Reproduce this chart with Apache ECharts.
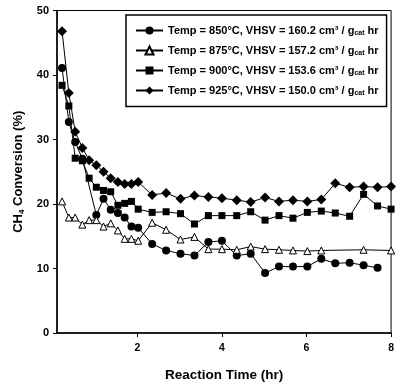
<!DOCTYPE html>
<html>
<head>
<meta charset="utf-8">
<script src="https://cdn.jsdelivr.net/npm/echarts@6/dist/echarts.min.js"></script>
<style>
  html, body { margin: 0; padding: 0; background: #fff; }
  #chart { width: 397px; height: 387px; }
</style>
</head>
<body>
<div id="chart"></div>
<script>
// reaction time (hr), 10 min steps first, then 20 min steps
var timeHr = [0.22, 0.38, 0.53, 0.7, 0.86, 1.03, 1.2, 1.37, 1.54, 1.7, 1.86, 2.02,
    2.35, 2.68, 3.02, 3.35, 3.68, 4.0, 4.35, 4.68, 5.02, 5.35, 5.68, 6.02, 6.35, 6.68, 7.02, 7.35, 7.68, 8.0];

// CH4 conversion (%)
var conv850 = [41.1, 32.7, 29.6, 27.0, null, 18.3, 20.8, 19.1, 18.6, 17.9, 16.5, 16.3,
    13.8, 12.8, 12.3, 12.0, 14.1, 14.3, 12.0, 12.3, 9.3, 10.3, 10.3, 10.3, 11.5, 10.8, 10.9, 10.5, 10.1, null];
var conv875 = [20.4, 17.9, 17.9, 16.8, 17.5, 17.5, 16.5, 17.0, 15.9, 14.6, 14.6, 14.3,
    17.1, 16.0, 14.5, 14.9, 13.0, 13.0, 12.9, 13.4, 13.0, 12.9, 12.8, 12.7, 12.8, null, null, 12.9, null, 12.8];
var conv900 = [38.4, 35.2, 27.1, 26.7, 24.0, 22.6, 22.1, 21.9, 19.8, 20.1, 20.4, 19.2,
    18.7, 18.8, 18.5, 16.9, 18.2, 18.2, 18.2, 18.8, 17.5, 18.2, 17.8, 18.7, 18.9, 18.6, 18.1, 21.5, 19.7, 19.2];
var conv925 = [46.8, 37.2, 31.2, 28.7, 26.8, 26.0, 25.0, 24.0, 23.4, 23.1, 23.1, 23.4,
    21.4, 21.7, 20.8, 21.3, 21.1, 20.9, 20.6, 20.3, 21.0, 20.4, 20.6, 20.4, 20.7, 23.2, 22.6, 22.7, 22.6, 22.7];

var seriesNames = ['850', '875', '900', '925'];
var vhsvValues = ['160.2', '157.2', '153.6', '150.0'];
var xTicks = [2, 4, 6, 8];
var yTicks = [0, 10, 20, 30, 40, 50];

var font = '"Liberation Sans", Arial, sans-serif';

function pairs(vals) {
    var out = [];
    for (var i = 0; i < timeHr.length; i++) {
        out.push([timeHr[i], vals[i]]);
    }
    return out;
}

function makeSeries(idx, vals, symbol, size, hollow) {
    return {
        name: seriesNames[idx],
        type: 'line',
        data: pairs(vals),
        connectNulls: true,
        symbol: symbol,
        symbolSize: size,
        showAllSymbol: true,
        lineStyle: { color: '#000', width: 1 },
        itemStyle: hollow
            ? { color: '#fff', borderColor: '#000', borderWidth: 1 }
            : { color: '#000', borderColor: '#000', borderWidth: 0 },
        emphasis: { disabled: true },
        animation: false
    };
}

var chart = echarts.init(document.getElementById('chart'), null, { renderer: 'canvas' });

var option = {
    backgroundColor: '#fff',
    animation: false,
    grid: {
        left: 57, right: 3, top: 10.5, bottom: 51.3,
        show: true, borderColor: '#000', borderWidth: 1
    },
    legend: {
        orient: 'vertical',
        left: 126, top: 15,
        padding: [10, 8, 10, 9],
        itemGap: 8.5,
        itemWidth: 27,
        itemHeight: 10,
        borderColor: '#000',
        borderWidth: 1.5,
        backgroundColor: '#fff',
        data: seriesNames,
        formatter: function(name) {
            var i = seriesNames.indexOf(name);
            return '{t|Temp = ' + name + '°C, VHSV = ' + vhsvValues[i] + ' cm³ / g}{s|cat}{t| hr}';
        },
        textStyle: {
            rich: {
                t: { fontFamily: font, fontWeight: 'bold', fontSize: 11, color: '#000' },
                s: { fontFamily: font, fontWeight: 'bold', fontSize: 7, color: '#000', padding: [5, 0, 0, 0] }
            }
        }
    },
    xAxis: {
        type: 'value',
        min: 0.1,
        max: 8,
        name: 'Reaction Time (hr)',
        nameLocation: 'middle',
        nameGap: 35,
        nameTextStyle: { fontFamily: font, fontWeight: 'bold', fontSize: 13.5, color: '#000' },
        splitLine: { show: false },
        axisLine: { lineStyle: { color: '#000', width: 1.5 } },
        axisTick: { inside: false, length: 4, customValues: xTicks, lineStyle: { color: '#000' } },
        axisLabel: {
            customValues: xTicks,
            margin: 10,
            fontFamily: font, fontWeight: 'bold', fontSize: 10.5, color: '#000'
        }
    },
    yAxis: {
        type: 'value',
        min: yTicks[0],
        max: yTicks[yTicks.length - 1],
        interval: 10,
        name: '{b|CH}{s|4}{b| Conversion (%)}',
        nameLocation: 'middle',
        nameGap: 30,
        nameTextStyle: {
            rich: {
                b: { fontFamily: font, fontWeight: 'bold', fontSize: 13, color: '#000' },
                s: { fontFamily: font, fontWeight: 'bold', fontSize: 8, color: '#000', padding: [6, 0, 0, 0] }
            }
        },
        splitLine: { show: false },
        axisLine: { lineStyle: { color: '#000', width: 1.5 } },
        axisTick: { inside: false, length: 4, lineStyle: { color: '#000' } },
        axisLabel: {
            margin: 8,
            fontFamily: font, fontWeight: 'bold', fontSize: 11, color: '#000'
        }
    },
    series: [
        makeSeries(0, conv850, 'circle', 8, false),
        makeSeries(1, conv875, 'triangle', 7, true),
        makeSeries(2, conv900, 'rect', 7, false),
        makeSeries(3, conv925, 'diamond', 10, false)
    ]
};

chart.setOption(option);
</script>
</body>
</html>
